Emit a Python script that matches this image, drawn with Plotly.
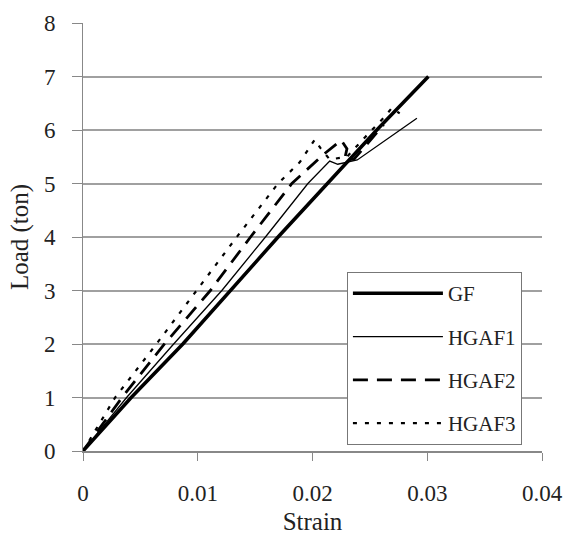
import plotly.graph_objects as go

# ---- data ----
strain_gf = [0, 0.0042, 0.0087, 0.0128, 0.0170, 0.0213, 0.0256, 0.0301]
load_gf = [0, 1.0, 2.0, 3.0, 4.0, 5.0, 6.0, 7.0]

strain_h1 = [0, 0.0038, 0.0079, 0.0121, 0.0159, 0.0196, 0.0215, 0.0222, 0.0239, 0.0291]
load_h1 = [0, 1.0, 2.0, 3.0, 4.0, 5.0, 5.42, 5.36, 5.44, 6.22]

strain_h2 = [0, 0.0034, 0.0071, 0.0111, 0.0146, 0.0182, 0.0210, 0.0225, 0.0230, 0.0228, 0.0236, 0.0252, 0.0262]
load_h2 = [0, 1.0, 2.0, 3.0, 4.0, 5.0, 5.55, 5.81, 5.65, 5.45, 5.45, 5.85, 6.1]

strain_h3 = [0, 0.0028, 0.0064, 0.0099, 0.0134, 0.0170, 0.0189, 0.0202, 0.0207, 0.0215,
             0.0230, 0.0246, 0.0253, 0.0263, 0.0269, 0.0276]
load_h3 = [0, 1.0, 2.0, 3.0, 4.0, 5.0, 5.4, 5.82, 5.66, 5.45,
           5.5, 5.87, 6.03, 6.25, 6.41, 6.31]

x_ticks = [0, 0.01, 0.02, 0.03, 0.04]
x_tick_text = ["0", "0.01", "0.02", "0.03", "0.04"]
y_ticks = [0, 1, 2, 3, 4, 5, 6, 7, 8]

FONT = "Liberation Serif"

fig = go.Figure()
series = [
    ("GF", strain_gf, load_gf, dict(color="black", width=3.5, dash="solid")),
    ("HGAF1", strain_h1, load_h1, dict(color="black", width=1.3, dash="solid")),
    ("HGAF2", strain_h2, load_h2, dict(color="black", width=2.8, dash="15px,9px")),
    ("HGAF3", strain_h3, load_h3, dict(color="black", width=2.2, dash="4px,8px")),
]
for name, xs, ys, ln in series:
    fig.add_trace(go.Scatter(x=xs, y=ys, mode="lines", name=name, line=ln,
                             legendgroup=name))

fig.update_layout(
    width=569, height=542,
    margin=dict(l=83, r=27, t=23, b=91, autoexpand=False),
    paper_bgcolor="white", plot_bgcolor="white",
    font=dict(family=FONT, size=23, color="#222"),
    showlegend=True,
    legend=dict(
        x=0.575, y=0.418, xanchor="left", yanchor="top",
        bgcolor="white", bordercolor="#777", borderwidth=1,
        font=dict(family=FONT, size=21, color="#222"),
        traceorder="grouped", tracegroupgap=13, itemwidth=90,
    ),
    xaxis=dict(
        range=[0, 0.04], tickvals=x_ticks, ticktext=x_tick_text,
        showgrid=False, zeroline=False, automargin=False,
        showline=True, linecolor="#888", linewidth=2,
        ticks="outside", ticklen=8, tickcolor="#888", tickwidth=1,
        ticklabelstandoff=12,
        title=dict(text="Strain", font=dict(family=FONT, size=25), standoff=8),
        tickfont=dict(family=FONT, size=23),
    ),
    yaxis=dict(
        range=[0, 8], tickvals=y_ticks, automargin=False,
        showgrid=True, gridcolor="#a0a0a0", gridwidth=2,
        zeroline=False,
        showline=True, linecolor="#888", linewidth=1,
        ticks="outside", ticklen=10, tickcolor="#888", tickwidth=1,
        ticklabelstandoff=12,
        title=dict(text="Load (ton)", font=dict(family=FONT, size=25), standoff=8),
        tickfont=dict(family=FONT, size=23),
    ),
)

fig.write_html("out.html")
